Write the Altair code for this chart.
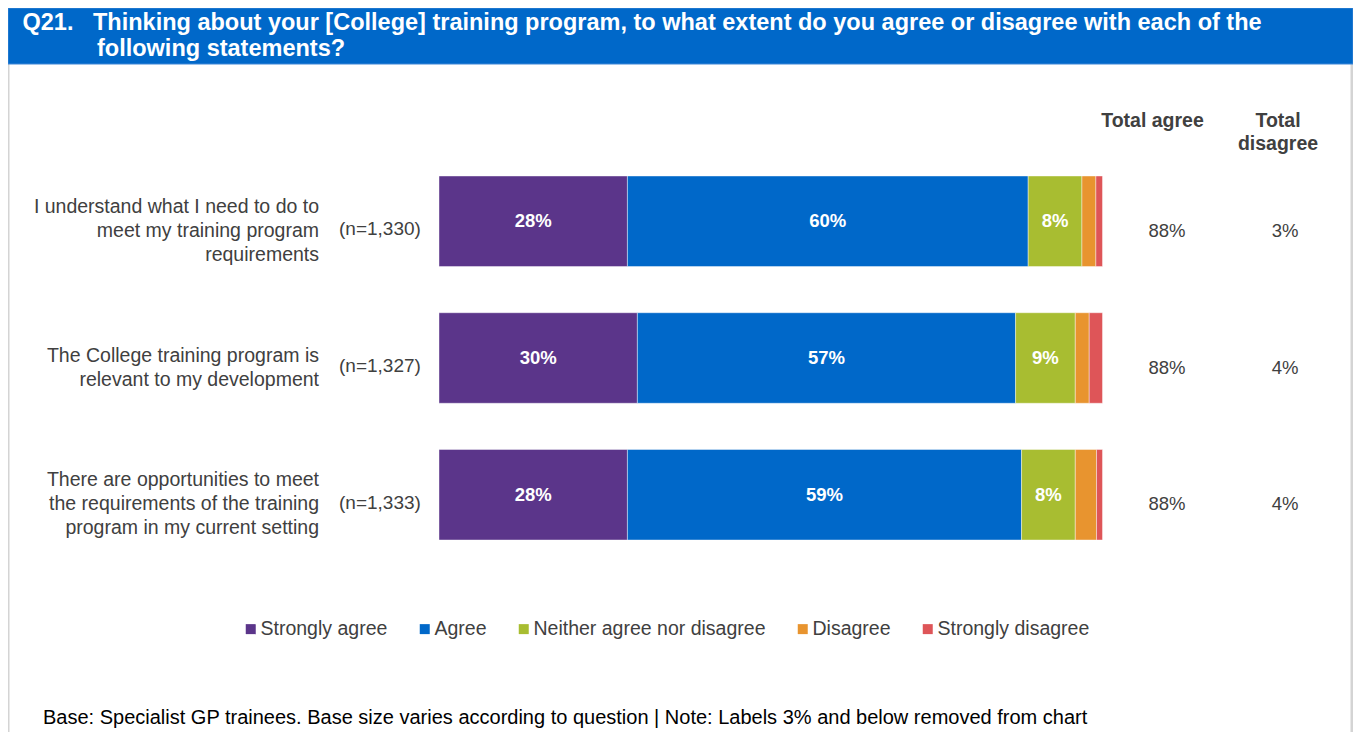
import altair as alt
import pandas as pd

# ---------------- data ----------------
row_ids = ["r1", "r2", "r3"]
statement_lines = [
    ["I understand what I need to do to", "meet my training program", "requirements"],
    ["The College training program is", "relevant to my development"],
    ["There are opportunities to meet", "the requirements of the training", "program in my current setting"],
]
n_labels = ["(n=1,330)", "(n=1,327)", "(n=1,333)"]

categories = ["Strongly agree", "Agree", "Neither agree nor disagree", "Disagree", "Strongly disagree"]
colors = ["#5B358A", "#0068C9", "#A8BD31", "#E8942F", "#DE5558"]

strongly_agree = [28.4, 29.9, 28.4]
agree = [60.4, 57.0, 59.4]
neither = [8.1, 9.0, 8.1]
disagree = [2.1, 2.1, 3.2]
strongly_disagree = [1.0, 2.0, 0.9]

total_agree = ["88%", "88%", "88%"]
total_disagree = ["3%", "4%", "4%"]

title_q = "Q21."
title_line1 = "Thinking about your [College] training program, to what extent do you agree or disagree with each of the"
title_line2 = "following statements?"
col_head_agree = "Total agree"
col_head_disagree = "Total\ndisagree"
footnote = "Base:   Specialist GP trainees. Base size varies according to question | Note: Labels 3% and below removed from chart"

# ---------------- tables ----------------
series = [strongly_agree, agree, neither, disagree, strongly_disagree]
records = []
for i, r in enumerate(row_ids):
    for k, (cat, vals) in enumerate(zip(categories, series)):
        records.append({"row": r, "cat": cat, "order": k, "value": vals[i]})
long_df = pd.DataFrame(records)

rows_df = pd.DataFrame({
    "row": row_ids,
    "statement": ["\n".join(lines) for lines in statement_lines],
    "nlines": [len(lines) for lines in statement_lines],
    "n": n_labels,
    "ta": total_agree,
    "td": total_disagree,
})

one = pd.DataFrame({"k": [0]})

FONT = "Liberation Sans, Arial, sans-serif"
GREY = "#404040"
W, H = 1345, 724
BODY = 19.5
LINE_H = 24
ROW_DY = 9.5

x_scale = alt.Scale(domain=[0, 100], range=[431, 1094.5], nice=False, zero=False)
y_scale = alt.Scale(domain=row_ids, range=[168, 532], paddingInner=0.338, paddingOuter=0)
Y = alt.Y("row:N", scale=y_scale, axis=None)

stacked = alt.Chart(long_df).transform_stack(
    stack="value", groupby=["row"], as_=["x0", "x1"],
    sort=[alt.SortField("order", order="ascending")],
)

bars = stacked.mark_bar(stroke="white", strokeWidth=0.7, strokeOpacity=0.6).encode(
    x=alt.X("x0:Q", scale=x_scale, axis=None),
    x2="x1:Q",
    y=Y,
    color=alt.Color(
        "cat:N",
        scale=alt.Scale(domain=categories, range=colors),
        legend=alt.Legend(
            orient="none", legendX=233, legendY=611, direction="horizontal",
            title=None, symbolType="square", symbolSize=100, symbolStrokeWidth=0,
            labelFontSize=BODY, labelColor=GREY, labelFont=FONT, labelLimit=400,
            columnPadding=27, labelOffset=0,
        ),
    ),
    order=alt.Order("order:Q"),
)

bar_labels = stacked.transform_calculate(
    mid="(datum.x0 + datum.x1) / 2",
    lbl="round(datum.value) + '%'",
).transform_filter("round(datum.value) > 3").mark_text(
    color="white", fontWeight="bold", fontSize=18.5, font=FONT, baseline="middle", align="center"
).encode(
    x=alt.X("mid:Q", scale=x_scale, axis=None),
    y=Y,
    text="lbl:N",
)

row_base = alt.Chart(rows_df)

def statement_layer(nl):
    return row_base.transform_filter(f"datum.nlines == {nl}").mark_text(
        align="right", baseline="middle", lineBreak="\n", lineHeight=LINE_H,
        fontSize=BODY, font=FONT, color=GREY, dy=ROW_DY - (nl - 1) * LINE_H / 2,
    ).encode(x=alt.value(311), y=Y, text="statement:N")

stmt3 = statement_layer(3)
stmt2 = statement_layer(2)

n_text = row_base.mark_text(
    align="left", baseline="middle", fontSize=19, font=FONT, color=GREY, dy=ROW_DY - 1.5,
).encode(x=alt.value(331), y=Y, text="n:N")

ta_text = row_base.mark_text(
    align="center", baseline="middle", fontSize=18.5, font=FONT, color=GREY, dy=ROW_DY,
).encode(x=alt.value(1159), y=Y, text="ta:N")

td_text = row_base.mark_text(
    align="center", baseline="middle", fontSize=18.5, font=FONT, color=GREY, dy=ROW_DY,
).encode(x=alt.value(1277), y=Y, text="td:N")

# ---------------- decorations ----------------
header_rect = alt.Chart(one).mark_rect(color="#0068C9", stroke="#3d86d6", strokeWidth=1).encode(
    x=alt.value(0), x2=alt.value(W), y=alt.value(0), y2=alt.value(56)
)

def label(text, x, y, **kw):
    return alt.Chart(pd.DataFrame({"t": [text]})).mark_text(font=FONT, **kw).encode(
        x=alt.value(x), y=alt.value(y), text="t:N"
    )

TITLE_FS = 23.5
t_q = label(title_q, 14.5, 22, align="left", baseline="alphabetic", fontSize=TITLE_FS, fontWeight="bold", color="white")
t_l1 = label(title_line1, 85, 22, align="left", baseline="alphabetic", fontSize=TITLE_FS, fontWeight="bold", color="white")
t_l2 = label(title_line2, 89, 48, align="left", baseline="alphabetic", fontSize=TITLE_FS, fontWeight="bold", color="white")

h_agree = label(col_head_agree, 1144.5, 113, align="center", baseline="middle", fontSize=BODY, fontWeight="bold", color=GREY)
h_dis = alt.Chart(pd.DataFrame({"t": [col_head_disagree]})).mark_text(
    baseline="middle", align="center", lineBreak="\n", lineHeight=23, font=FONT,
    fontSize=BODY, fontWeight="bold", color=GREY,
).encode(x=alt.value(1270), y=alt.value(113), text="t:N")

foot = label(footnote, 35, 710, align="left", baseline="middle", fontSize=20, color="#000000")

left_border = alt.Chart(one).mark_rule(color="#d4d4d4", strokeWidth=3).encode(
    x=alt.value(0), y=alt.value(0), y2=alt.value(H)
)
right_border = alt.Chart(one).mark_rule(color="#d4d4d4", strokeWidth=3).encode(
    x=alt.value(W - 1), y=alt.value(0), y2=alt.value(H)
)

chart = alt.layer(
    left_border, right_border, header_rect, t_q, t_l1, t_l2,
    h_agree, h_dis, bars, bar_labels, stmt3, stmt2, n_text, ta_text, td_text, foot,
).properties(
    width=W, height=H, autosize=alt.AutoSizeParams(type="none"), padding=0,
).configure_view(stroke="transparent").configure(font=FONT)

chart.save("out.html", embed_options={"renderer": "svg", "actions": False})
